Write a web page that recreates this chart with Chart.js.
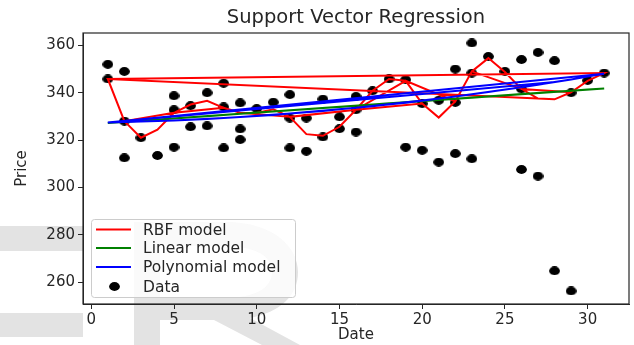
<!DOCTYPE html>
<html>
<head>
<meta charset="utf-8">
<script src="https://cdn.jsdelivr.net/npm/chart.js@4.4.1/dist/chart.umd.min.js"></script>
<style>
  html, body { margin: 0; padding: 0; background: #ffffff; }
  #wrap { position: relative; width: 634px; height: 345px; }
</style>
</head>
<body>
<div id="wrap"><canvas id="c" width="634" height="345"></canvas></div>
<script>
// ---- data ----
// trading days (day of month) in data order, three months
const janDays = [2,3,4,5,8,9,10,11,12,16,17,18,19,22,23,24,25,26,29,30,31];
const febDays = [1,2,5,6,7,8,9,12,13,14,15,16,20,21,22,23,26,27,28];
const marDays = [1,2,5,6,7,8,9,12,13,14,15,16,19,20,21,22,23,26,27,28,29];
// observed prices per trading day
const janPrices = [312.5,321,313.5,317,316.7,335.7,333.3,336,339.2,338.4,340.8,345.8,345.5,350,361,355.3,349,341.6,340,345.2,348.3];
const febPrices = [352,349,338.7,325.6,340,344,320.2,316.7,315.3,321.3,324.8,332.8,335.4,336.8,335.9,348.3,354,357,353.5];
const marPrices = [345.8,328,332.8,334.5,326,334,324.7,329.3,329.3,337.3,329.8,323.4,317,315.7,310.7,314.3,312.1,307.6,304.8,264.8,256.3];
// model predictions for each day of month 1..31
const dayNumbers = [1,2,3,4,5,6,7,8,9,10,11,12,13,14,15,16,17,18,19,20,21,22,23,24,25,26,27,28,29,30,31];
const rbfByDay  = [345.8,328,321,324.4,331.5,335,336.6,333.6,331.5,331.4,333,329.8,322.5,321.8,325.6,332.8,340.8,345.8,345,335.4,329.5,336.3,349,354.6,348.7,341.6,337.5,337.2,340.2,345,348.3];
const linByDay  = [327.2,327.7,328.2,328.7,329.1,329.6,330.1,330.6,331.1,331.6,332.1,332.6,333.0,333.5,334.0,334.5,335.0,335.5,336.0,336.5,336.9,337.4,337.9,338.4,338.9,339.4,339.9,340.4,340.8,341.3,341.8];
const polyByDay = [327.4,327.6,327.8,328.0,328.3,328.6,328.9,329.3,329.7,330.2,330.6,331.2,331.7,332.3,333.0,333.6,334.3,335.1,335.8,336.7,337.5,338.4,339.3,340.3,341.3,342.3,343.4,344.5,345.6,346.8,348.0];
const xTickValues = [0,5,10,15,20,25,30];
const yTickValues = [260,280,300,320,340,360];
const titleText = 'Support Vector Regression';
const xLabel = 'Date';
const yLabel = 'Price';
const legendLabels = ['RBF model','Linear model','Polynomial model','Data'];

// ---- build datasets ----
const allDays = janDays.concat(febDays, marDays);
const allPrices = janPrices.concat(febPrices, marPrices);
const scatterPts = allDays.map((d, i) => ({x: d, y: allPrices[i]}));
const modelLine = arr => allDays.map(d => ({x: d, y: arr[dayNumbers.indexOf(d)]}));

// elliptical marker like the (slightly stretched) reference
const dot = document.createElement('canvas');
dot.width = 11; dot.height = 9;
{
  const g = dot.getContext('2d');
  g.fillStyle = '#000';
  g.beginPath();
  g.ellipse(5.5, 4.5, 5.4, 4.4, 0, 0, Math.PI * 2);
  g.fill();
}

const framePlugin = {
  id: 'frame',
  beforeDraw(chart) {
    // light grey watermark shapes behind the figure
    const {ctx} = chart;
    ctx.save();
    ctx.fillStyle = '#e3e3e3';
    ctx.fillRect(0, 226, 83, 25);
    ctx.fillRect(0, 313, 83, 24);
    ctx.beginPath();
    ctx.moveTo(134, 222);
    ctx.lineTo(225, 222);
    ctx.bezierCurveTo(275, 222, 298, 248, 298, 272);
    ctx.bezierCurveTo(298, 296, 280, 312, 250, 318);
    ctx.lineTo(300, 345);
    ctx.lineTo(262, 345);
    ctx.lineTo(214, 320);
    ctx.lineTo(160, 320);
    ctx.lineTo(160, 345);
    ctx.lineTo(134, 345);
    ctx.closePath();
    ctx.moveTo(160, 246);
    ctx.lineTo(160, 298);
    ctx.lineTo(222, 298);
    ctx.bezierCurveTo(256, 298, 272, 288, 272, 272);
    ctx.bezierCurveTo(272, 256, 256, 246, 222, 246);
    ctx.closePath();
    ctx.fill('evenodd');
    ctx.restore();
  },
  afterDatasetsDraw(chart) {
    const {ctx, chartArea: a} = chart;
    ctx.save();
    ctx.strokeStyle = '#262626';
    ctx.lineWidth = 1.2;
    ctx.strokeRect(a.left, a.top, a.right - a.left, a.bottom - a.top);
    ctx.restore();
  },
  afterDraw(chart) {
    const {ctx, chartArea: a} = chart;
    ctx.save();
    // title
    ctx.fillStyle = '#262626';
    ctx.font = '19.5px "DejaVu Sans"';
    ctx.textAlign = 'center';
    ctx.textBaseline = 'middle';
    ctx.fillText(titleText, (a.left + a.right) / 2, 18);
    // legend
    const bx = 91, by = 219, bw = 204, bh = 78;
    ctx.fillStyle = 'rgba(255,255,255,0.8)';
    ctx.strokeStyle = '#cccccc';
    ctx.lineWidth = 1;
    ctx.beginPath();
    ctx.roundRect(bx + 0.5, by + 0.5, bw, bh, 3);
    ctx.fill();
    ctx.stroke();
    const rows = [229.5, 248, 267, 286.5];
    const colors = ['#ff0000', '#008000', '#0000ff'];
    ctx.font = '15.5px "DejaVu Sans"';
    ctx.textAlign = 'left';
    ctx.textBaseline = 'middle';
    for (let i = 0; i < 4; i++) {
      if (i < 3) {
        ctx.strokeStyle = colors[i];
        ctx.lineWidth = 2;
        ctx.beginPath();
        ctx.moveTo(96, rows[i]);
        ctx.lineTo(131, rows[i]);
        ctx.stroke();
      } else {
        ctx.drawImage(dot, 114.5 - 5.5, rows[i] - 4.5);
      }
      ctx.fillStyle = '#262626';
      ctx.fillText(legendLabels[i], 143, rows[i] + 1);
    }
    ctx.restore();
  }
};

new Chart(document.getElementById('c'), {
  type: 'scatter',
  data: {
    datasets: [
      {label: legendLabels[0], data: modelLine(rbfByDay), showLine: true, borderColor: '#ff0000', borderWidth: 2, pointRadius: 0, order: 3},
      {label: legendLabels[1], data: modelLine(linByDay), showLine: true, borderColor: '#008000', borderWidth: 2, pointRadius: 0, order: 2},
      {label: legendLabels[2], data: modelLine(polyByDay), showLine: true, borderColor: '#0000ff', borderWidth: 2, pointRadius: 0, order: 1},
      {label: legendLabels[3], data: scatterPts, pointStyle: dot, pointRadius: 5, backgroundColor: '#000', borderWidth: 0, order: 4}
    ]
  },
  options: {
    responsive: false,
    animation: false,
    devicePixelRatio: 1,
    layout: {padding: {top: 33, right: 4, left: 0, bottom: 0}},
    plugins: {legend: {display: false}, title: {display: false}, tooltip: {enabled: false}},
    scales: {
      x: {
        type: 'linear', min: -0.5, max: 32.5,
        afterBuildTicks: s => { s.ticks = xTickValues.map(v => ({value: v})); },
        afterFit: s => { s.height = 41; },
        grid: {display: true, drawOnChartArea: false, drawTicks: true, tickLength: 5, color: '#262626'},
        border: {display: true, color: '#262626', width: 1},
        ticks: {color: '#262626', font: {family: 'DejaVu Sans', size: 15}, padding: 2, maxRotation: 0},
        title: {display: true, text: xLabel, color: '#262626', font: {family: 'DejaVu Sans', size: 15}, padding: {top: 0, bottom: 1}}
      },
      y: {
        type: 'linear', min: 250.8, max: 365.2,
        afterBuildTicks: s => { s.ticks = yTickValues.map(v => ({value: v})); },
        afterFit: s => { s.width = 83; },
        grid: {display: true, drawOnChartArea: false, drawTicks: true, tickLength: 5, color: '#262626'},
        border: {display: true, color: '#262626', width: 1},
        ticks: {color: '#262626', font: {family: 'DejaVu Sans', size: 15}, padding: 3},
        title: {display: true, text: yLabel, color: '#262626', font: {family: 'DejaVu Sans', size: 15}, padding: {top: 13, bottom: 0}}
      }
    }
  },
  plugins: [framePlugin]
});
</script>
</body>
</html>
